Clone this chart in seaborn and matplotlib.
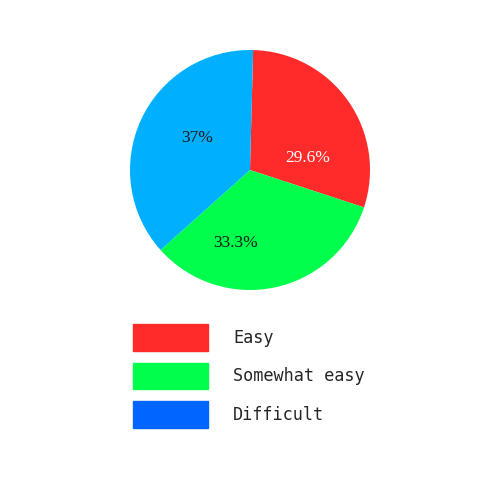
import matplotlib
matplotlib.use("Agg")
import matplotlib.pyplot as plt
import matplotlib.patches as mpatches
import seaborn as sns

sns.set_theme(style="white")

# data
labels = ["Easy", "Somewhat easy", "Difficult"]
shares = [29.6, 33.3, 37.0]
pct_text = ["29.6%", "33.3%", "37%"]
slice_colors = ["#ff2a2a", "#00ff4c", "#00b0ff"]
legend_colors = ["#ff2a2a", "#00ff4c", "#0066ff"]
text_colors = ["white", "#1a1a1a", "#1a1a1a"]
# where each percentage sits inside the pie (unit radius)
text_pos = [(0.48, 0.10), (-0.12, -0.61), (-0.44, 0.27)]

fig = plt.figure(figsize=(5, 5), dpi=100)
ax = fig.add_axes([0.26, 0.42, 0.48, 0.48])

wedges, _ = ax.pie(shares, colors=slice_colors, startangle=88.5,
                   counterclock=False, radius=1.0)
for w in wedges:
    w.set_linewidth(0)

for txt, (x, y), c in zip(pct_text, text_pos, text_colors):
    ax.text(x, y, txt, ha="center", va="center", color=c, fontsize=12.5,
            family=["Liberation Serif", "DejaVu Serif"])

ax.set_xlim(-1, 1)
ax.set_ylim(-1, 1)
ax.set_aspect("equal")
ax.axis("off")

handles = [mpatches.Patch(color=c, label=l) for c, l in zip(legend_colors, labels)]
fig.legend(handles=handles, loc="upper left", bbox_to_anchor=(0.266, 0.352),
           frameon=False, borderpad=0, borderaxespad=0,
           handlelength=4.4, handleheight=2.05, labelspacing=0.7,
           handletextpad=1.5,
           prop={"family": "DejaVu Sans Mono", "size": 12.2})

fig.savefig("out.png", dpi=100, facecolor="white")
